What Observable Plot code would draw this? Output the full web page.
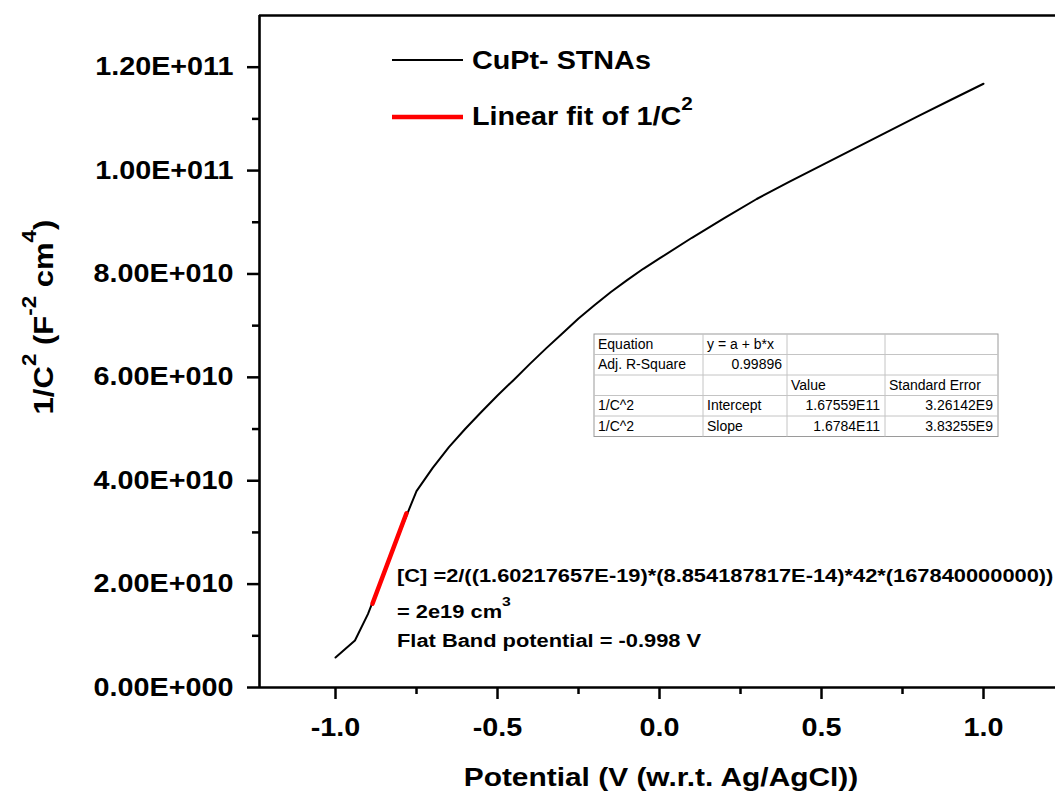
<!DOCTYPE html>
<html>
<head>
<meta charset="utf-8">
<script src="https://cdn.jsdelivr.net/npm/d3@7"></script>
<script src="https://cdn.jsdelivr.net/npm/@observablehq/plot@0.6"></script>
<style>
  html, body { margin: 0; padding: 0; background: #fff; }
  #chart svg { display: block; }
</style>
</head>
<body>
<div id="chart"></div>
<script>
// ---- data ----
const potential = [-1.0, -0.94, -0.90, -0.85, -0.80, -0.75, -0.70, -0.65, -0.60, -0.55, -0.50, -0.45, -0.40, -0.35, -0.30, -0.25, -0.20, -0.15, -0.10, -0.05, 0.0, 0.1, 0.2, 0.3, 0.4, 0.5, 0.6, 0.7, 0.8, 0.9, 1.0];
const invC2 = [0.58e10, 0.91e10, 1.42e10, 2.22e10, 3.03e10, 3.80e10, 4.25e10, 4.65e10, 5.00e10, 5.33e10, 5.65e10, 5.95e10, 6.26e10, 6.56e10, 6.85e10, 7.14e10, 7.40e10, 7.65e10, 7.88e10, 8.10e10, 8.30e10, 8.70e10, 9.08e10, 9.45e10, 9.78e10, 10.10e10, 10.42e10, 10.74e10, 11.06e10, 11.37e10, 11.68e10];
const fitPotential = [-0.886, -0.781];
const fitInvC2 = [1.62e10, 3.37e10];

const xTicks = [-1.0, -0.5, 0.0, 0.5, 1.0];
const xTickLabels = ["-1.0", "-0.5", "0.0", "0.5", "1.0"];
const xMinorTicks = [-0.75, -0.25, 0.25, 0.75];
const yTicks = [0, 2e10, 4e10, 6e10, 8e10, 10e10, 12e10];
const yTickLabels = ["0.00E+000", "2.00E+010", "4.00E+010", "6.00E+010", "8.00E+010", "1.00E+011", "1.20E+011"];
const yMinorTicks = [1e10, 3e10, 5e10, 7e10, 9e10, 11e10];
const xDomain = [-1.2346, 1.2222];
const yDomain = [0, 1.3e11];

const seriesName = "CuPt- STNAs";
const fitName = "Linear fit of 1/C";
const tableRows = [
  ["Equation", "y = a + b*x", "", ""],
  ["Adj. R-Square", "0.99896", "", ""],
  ["", "", "Value", "Standard Error"],
  ["1/C^2", "Intercept", "1.67559E11", "3.26142E9"],
  ["1/C^2", "Slope", "1.6784E11", "3.83255E9"]
];
const tableAlign = [
  ["start", "start", "start", "start"],
  ["start", "end", "start", "start"],
  ["start", "start", "start", "start"],
  ["start", "start", "end", "end"],
  ["start", "start", "end", "end"]
];
const noteLine1 = "[C] =2/((1.60217657E-19)*(8.854187817E-14)*42*(167840000000))";
const noteLine2 = "= 2e19 cm";
const noteLine3 = "Flat Band potential = -0.998 V";

// ---- chart ----
const curve = potential.map((v, i) => ({v, c: invC2[i]}));
const fit = fitPotential.map((v, i) => ({v, c: fitInvC2[i]}));
const FONT = "'Liberation Sans', Arial, sans-serif";
const S = 1.15; // horizontal stretch of bold text

const chart = Plot.plot({
  width: 1055,
  height: 791,
  marginLeft: 259,
  marginRight: 0,
  marginTop: 15,
  marginBottom: 104,
  x: {domain: xDomain, axis: null},
  y: {domain: yDomain, axis: null},
  style: {fontFamily: FONT, fontWeight: "bold", background: "#fff", color: "#000"},
  marks: [
    Plot.axisX(xTicks, {tickSize: 12, tickPadding: 19, strokeWidth: 2.5, fontSize: 25, fontWeight: "bold",
      tickFormat: d => xTickLabels[xTicks.indexOf(d)], label: null}),
    Plot.axisX(xMinorTicks, {tickSize: 7, strokeWidth: 2.5, tickFormat: () => "", label: null}),
    Plot.axisY(yTicks, {tickSize: 12, tickPadding: 14, strokeWidth: 2.5, fontSize: 25, fontWeight: "bold",
      tickFormat: d => yTickLabels[yTicks.indexOf(d)], label: null}),
    Plot.axisY(yMinorTicks, {tickSize: 7, strokeWidth: 2.5, tickFormat: () => "", label: null}),
    Plot.ruleY([yDomain[0], yDomain[1]], {stroke: "#000", strokeWidth: 2.6}),
    Plot.ruleX([xDomain[0]], {stroke: "#000", strokeWidth: 2.6}),
    Plot.line(curve, {x: "v", y: "c", stroke: "#000", strokeWidth: 2}),
    Plot.line(fit, {x: "v", y: "c", stroke: "#ff0000", strokeWidth: 4.5})
  ]
});

document.getElementById("chart").appendChild(chart);
const svg = d3.select(chart);

// stretch Plot's own text horizontally around its anchor
chart.querySelectorAll("text").forEach(t => {
  const x = +t.getAttribute("x") || 0, y = +t.getAttribute("y") || 0;
  let tr = t.getAttribute("transform") || "";
  if (x || y) { t.removeAttribute("x"); t.removeAttribute("y"); tr += ` translate(${x},${y})`; }
  t.setAttribute("transform", tr + ` scale(${S},1)`);
});

// rich text helper: parts = [[text, isSup], ...]
function rich(x, y, parts, size, opts = {}) {
  const rot = opts.rotate ? ` rotate(${opts.rotate})` : "";
  const t = svg.append("text")
    .attr("transform", `translate(${x},${y})${rot} scale(${opts.stretch ?? S},1)`)
    .attr("font-family", FONT)
    .attr("font-weight", opts.weight ?? "bold")
    .attr("font-size", size)
    .attr("text-anchor", opts.anchor ?? "start")
    .attr("fill", "#000");
  const supSize = size * (opts.supScale ?? 0.72);
  const raise = size * (opts.raise ?? 0.62);
  let up = false;
  parts.forEach(([s, sup]) => {
    const ts = t.append("tspan").text(s);
    if (sup && !up) { ts.attr("dy", -raise).attr("font-size", supSize); up = true; }
    else if (sup) { ts.attr("font-size", supSize); }
    else if (up) { ts.attr("dy", raise); up = false; }
  });
  return t;
}

// axis titles
rich(661, 786, [["Potential (V (w.r.t. Ag/AgCl))"]], 26, {anchor: "middle"});
rich(53, 317, [["1/C"], ["2", true], [" (F"], ["-2", true], [" cm"], ["4", true], [")"]], 27, {anchor: "middle", rotate: -90});

// legend
svg.append("line").attr("x1", 392).attr("x2", 463).attr("y1", 60).attr("y2", 60)
  .attr("stroke", "#000").attr("stroke-width", 2);
rich(472, 69, [[seriesName]], 25);
svg.append("line").attr("x1", 392).attr("x2", 463).attr("y1", 117).attr("y2", 117)
  .attr("stroke", "#ff0000").attr("stroke-width", 4.5);
rich(472, 125, [[fitName], ["2", true]], 25);

// annotation
rich(397, 582, [[noteLine1]], 19);
rich(397, 618, [[noteLine2], ["3", true]], 19);
rich(397, 647, [[noteLine3]], 19);

// fit table
const colX = [594, 703, 787, 885, 998];
const rowY = [334, 354.5, 375, 395.5, 416, 436.5];
const tg = svg.append("g").attr("font-weight", "normal");
tg.append("rect").attr("x", colX[0]).attr("y", rowY[0]).attr("width", colX[4] - colX[0])
  .attr("height", rowY[5] - rowY[0]).attr("fill", "#fff").attr("stroke", "#9a9a9a").attr("stroke-width", 1);
colX.slice(1, 4).forEach(cx => tg.append("line").attr("x1", cx).attr("x2", cx)
  .attr("y1", rowY[0]).attr("y2", rowY[5]).attr("stroke", "#c4c4c4").attr("stroke-width", 1));
rowY.slice(1, 5).forEach(ry => tg.append("line").attr("x1", colX[0]).attr("x2", colX[4])
  .attr("y1", ry).attr("y2", ry).attr("stroke", "#c4c4c4").attr("stroke-width", 1));
tableRows.forEach((row, r) => row.forEach((cell, c) => {
  if (!cell) return;
  const al = tableAlign[r][c];
  const tx = al === "end" ? colX[c + 1] - 5 : colX[c] + 4;
  tg.append("text").attr("x", tx).attr("y", rowY[r] + 14.5)
    .attr("text-anchor", al).attr("font-family", FONT).attr("font-size", 14)
    .attr("font-weight", "normal").attr("fill", "#000").text(cell);
}));
</script>
</body>
</html>
